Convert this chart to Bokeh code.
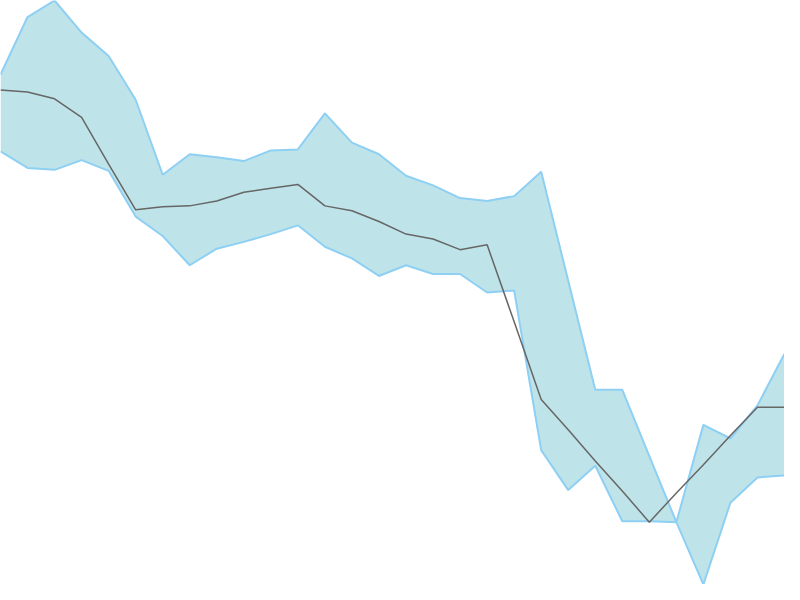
from bokeh.plotting import figure
from bokeh.models import Range1d
from bokeh.embed import file_html
from bokeh.resources import INLINE

x = list(range(30))
upper = [52.4, 58.3, 60.0, 56.7, 54.3, 49.8, 42.1, 44.2, 43.9, 43.5, 44.6, 44.7, 48.4, 45.4, 44.2,
         42.0, 41.0, 39.7, 39.4, 39.9, 42.4, 31.2, 20.0, 20.0, 13.2, 6.4, 16.4, 15.0, 18.4, 23.7]
lower = [44.5, 42.8, 42.6, 43.6, 42.5, 37.8, 35.8, 32.8, 34.5, 35.2, 36.0, 36.9, 34.7, 33.5, 31.7,
         32.8, 31.9, 31.9, 30.0, 30.2, 13.8, 9.7, 12.2, 6.5, 6.5, 6.4, 0.0, 8.4, 11.0, 11.2]
middle = [50.8, 50.6, 49.9, 48.0, 43.2, 38.5, 38.8, 38.9, 39.4, 40.3, 40.7, 41.1, 38.9, 38.4, 37.3,
          36.0, 35.5, 34.4, 34.9, 27.0, 19.0, 15.9, 12.7, 9.6, 6.4, 9.4, 12.3, 15.3, 18.2, 18.2]

p = figure(width=784, height=584, output_backend="svg", toolbar_location=None,
           x_range=Range1d(0, 29), y_range=Range1d(0, 60), min_border=0)
p.axis.visible = False
p.grid.visible = False
p.outline_line_color = None
p.background_fill_color = "white"

p.varea(x=x, y1=lower, y2=upper, fill_color="#BEE4E9")
p.line(x, upper, line_color="#8ECFF4", line_width=2)
p.line(x, lower, line_color="#8ECFF4", line_width=2)
p.line(x, middle, line_color="#666666", line_width=1.5)

open("out.html", "w").write(file_html(p, INLINE))
